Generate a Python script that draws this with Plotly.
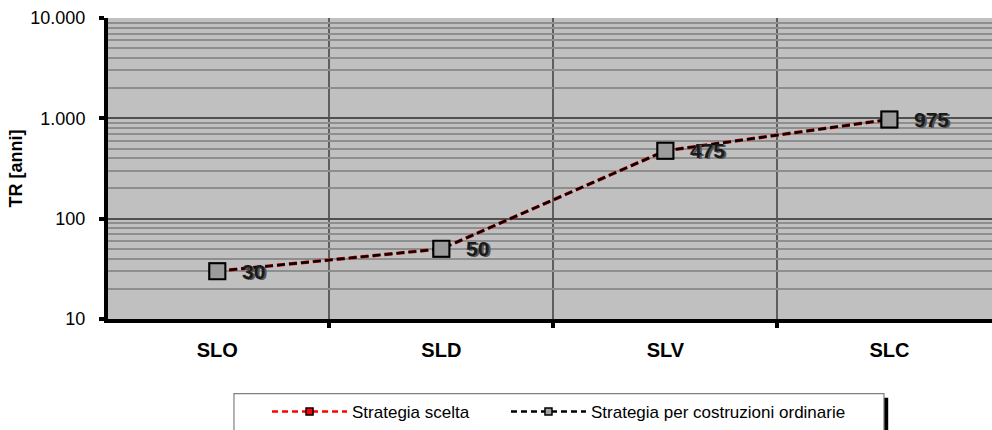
import math
import plotly.graph_objects as go

# Return periods TR (years) for each limit state
categories = ["SLO", "SLD", "SLV", "SLC"]
tr_scelta = [30, 50, 475, 975]
tr_ordinarie = [30, 50, 475, 975]
y_tick_values = [10, 100, 1000, 10000]
y_tick_labels = ["10", "100", "1.000", "10.000"]

FONT = "Liberation Sans, Arial, sans-serif"
DASH = "8px,4px"
x_pos = list(range(len(categories)))

fig = go.Figure()

# Selected strategy (red dashed, underneath)
fig.add_trace(go.Scatter(
    x=x_pos, y=tr_scelta, mode="lines+markers", showlegend=False,
    line=dict(color="#e00000", width=3.4, dash=DASH),
    marker=dict(symbol="square", size=16, color="#ff0000",
                line=dict(color="black", width=1.5)),
))
# Ordinary-building strategy (black dashed, on top)
fig.add_trace(go.Scatter(
    x=x_pos, y=tr_ordinarie, mode="lines+markers", showlegend=False,
    line=dict(color="black", width=2.4, dash=DASH),
    marker=dict(symbol="square", size=16, color="#9c9c9c",
                line=dict(color="black", width=2)),
))

# Legend entries with small markers
fig.add_trace(go.Scatter(
    x=[None], y=[None], mode="lines+markers", name="Strategia scelta",
    legend="legend",
    line=dict(color="#ff0000", width=2.5, dash="6px,4px"),
    marker=dict(symbol="square", size=7, color="#ff0000",
                line=dict(color="black", width=1.5)),
))
fig.add_trace(go.Scatter(
    x=[None], y=[None], mode="lines+markers",
    name="Strategia per costruzioni ordinarie", legend="legend2",
    line=dict(color="black", width=2.5, dash="6px,4px"),
    marker=dict(symbol="square", size=7, color="#a0a0a0",
                line=dict(color="black", width=1.5)),
))

# Value labels next to each point
for xi, v in zip(x_pos, tr_ordinarie):
    fig.add_annotation(
        x=xi, y=math.log10(v), text=str(v), showarrow=False,
        xanchor="left", yanchor="middle", xshift=23,
        font=dict(family=FONT, size=21, color="#1a1a1a", weight="bold",
                  shadow="2px 1px 0px #555555"),
    )

# Legend frame with its drop shadow (drawn beneath the legend entries)
fig.add_shape(type="rect", xref="paper", yref="paper",
              x0=0.16, x1=0.8826, y0=-0.45, y1=-0.262,
              fillcolor="black", line=dict(width=0), layer="above")
fig.add_shape(type="rect", xref="paper", yref="paper",
              x0=0.1425, x1=0.8778, y0=-0.45, y1=-0.248,
              fillcolor="white", line=dict(color="#808080", width=1.2),
              layer="above")

legend_style = dict(
    orientation="h", y=-0.248, xanchor="left", yanchor="top",
    bgcolor="rgba(0,0,0,0)", borderwidth=0,
    font=dict(family=FONT, size=17, color="black"),
    itemwidth=75,
)

fig.update_layout(
    width=992, height=430,
    margin=dict(l=108, r=0, t=18, b=110),
    paper_bgcolor="white", plot_bgcolor="#c0c0c0",
    font=dict(family=FONT, color="black"),
    legend=dict(x=0.1799, **legend_style),
    legend2=dict(x=0.4502, **legend_style),
    xaxis=dict(
        range=[-0.488, 3.458], tickmode="array", tickvals=x_pos,
        ticktext=categories, showgrid=False, zeroline=False,
        ticks="", showline=True, linecolor="black", linewidth=4,
        tickfont=dict(family=FONT, size=20, weight="bold"),
        ticklabelstandoff=10,
        minor=dict(tickmode="array", tickvals=[0.5, 1.5, 2.5],
                   showgrid=True, gridcolor="#5e5e5e", gridwidth=1.5,
                   ticks="outside", ticklen=5, tickwidth=4,
                   tickcolor="black"),
    ),
    yaxis=dict(
        type="log", range=[1, 4], tickmode="array",
        tickvals=y_tick_values, ticktext=y_tick_labels,
        showgrid=True, gridcolor="#505050", gridwidth=1.5,
        ticks="outside", ticklen=5, tickwidth=4, tickcolor="black",
        showline=True, linecolor="black", linewidth=4,
        tickfont=dict(family=FONT, size=18), ticklabelstandoff=10,
        title=dict(text="TR [anni]", standoff=4,
                   font=dict(family=FONT, size=18, weight="bold")),
        minor=dict(dtick="D1", showgrid=True, gridcolor="#8e8e8e",
                   gridwidth=1.5, ticks=""),
    ),
)

fig.write_html("out.html")
